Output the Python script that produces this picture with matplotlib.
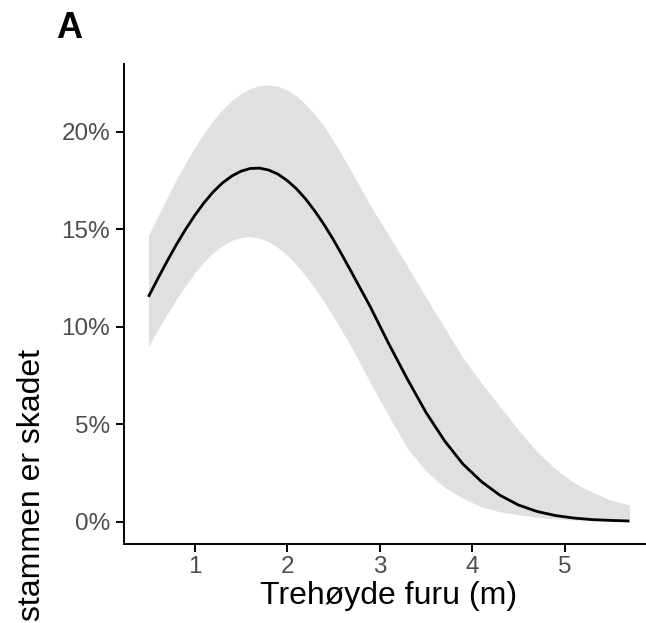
import matplotlib
matplotlib.use("Agg")
import matplotlib.pyplot as plt

plt.rcParams["font.family"] = ["Liberation Sans", "DejaVu Sans"]

# Tree height (m) and predicted probability (%) with confidence band
height_m = [0.5, 0.6, 0.7, 0.8, 0.9, 1.0, 1.1, 1.2, 1.3, 1.4, 1.5, 1.6, 1.7, 1.8,
            1.9, 2.0, 2.1, 2.2, 2.3, 2.4, 2.5, 2.6, 2.7, 2.9, 3.1, 3.3, 3.5, 3.7,
            3.9, 4.1, 4.3, 4.5, 4.7, 4.9, 5.1, 5.3, 5.5, 5.7]
fit_pct = [11.53, 12.45, 13.34, 14.19, 14.98, 15.7, 16.35, 16.91, 17.37, 17.72,
           17.97, 18.11, 18.13, 18.03, 17.82, 17.49, 17.07, 16.54, 15.92, 15.22,
           14.45, 13.61, 12.75, 11.0, 9.1, 7.3, 5.6, 4.15, 2.95, 2.05, 1.35, 0.85,
           0.52, 0.31, 0.18, 0.1, 0.06, 0.03]
upper_pct = [14.68, 15.65, 16.6, 17.53, 18.39, 19.19, 19.92, 20.57, 21.14, 21.6,
             21.95, 22.21, 22.36, 22.4, 22.33, 22.13, 21.83, 21.4, 20.88, 20.26,
             19.53, 18.74, 17.9, 16.2, 14.67, 13.1, 11.5, 9.95, 8.4, 7.1, 5.9, 4.7,
             3.6, 2.7, 2.0, 1.5, 1.1, 0.85]
lower_pct = [8.98, 9.83, 10.63, 11.39, 12.1, 12.75, 13.32, 13.79, 14.15, 14.42,
             14.57, 14.62, 14.54, 14.35, 14.05, 13.66, 13.17, 12.6, 11.96, 11.26,
             10.51, 9.72, 8.9, 7.1, 5.4, 3.75, 2.6, 1.75, 1.2, 0.75, 0.5, 0.35,
             0.22, 0.14, 0.08, 0.05, 0.03, 0.02]

x_ticks = [1, 2, 3, 4, 5]
y_ticks = [0, 5, 10, 15, 20]

fig = plt.figure(figsize=(6.46, 6.23), dpi=100)
ax = fig.add_axes([0.1926, 0.1268, 0.819, 0.7705])

ax.fill_between(height_m, lower_pct, upper_pct, color="#E0E0E0", lw=0)
ax.plot(height_m, fit_pct, color="black", lw=2.0, solid_capstyle="butt")

ax.set_xlim(0.24, 5.96)
ax.set_ylim(-1.15, 23.47)
ax.set_xticks(x_ticks)
ax.set_xticklabels([str(v) for v in x_ticks])
ax.set_yticks(y_ticks)
ax.set_yticklabels([f"{v}%" for v in y_ticks])

for side in ["top", "right"]:
    ax.spines[side].set_visible(False)
for side in ["left", "bottom"]:
    ax.spines[side].set_linewidth(1.4)
    ax.spines[side].set_color("black")

ax.tick_params(length=5.8, width=1.4, color="black", labelcolor="#4D4D4D",
               labelsize=17.5)
ax.tick_params(axis="x", pad=3)
ax.tick_params(axis="y", pad=4.5)

ax.set_xlabel("Trehøyde furu (m)", fontsize=23, color="black", labelpad=2)

# y label is partly outside the frame in the original; keep the visible part
fig.text(17 / 646, 1 - 349 / 623, "stammen er skadet", rotation=90,
         ha="left", va="top", fontsize=23, color="black")
fig.text(56 / 646, 1 - 11 / 623, "A", ha="left", va="top", fontsize=26,
         fontweight="bold", color="black")

fig.savefig("out.png", dpi=100)
